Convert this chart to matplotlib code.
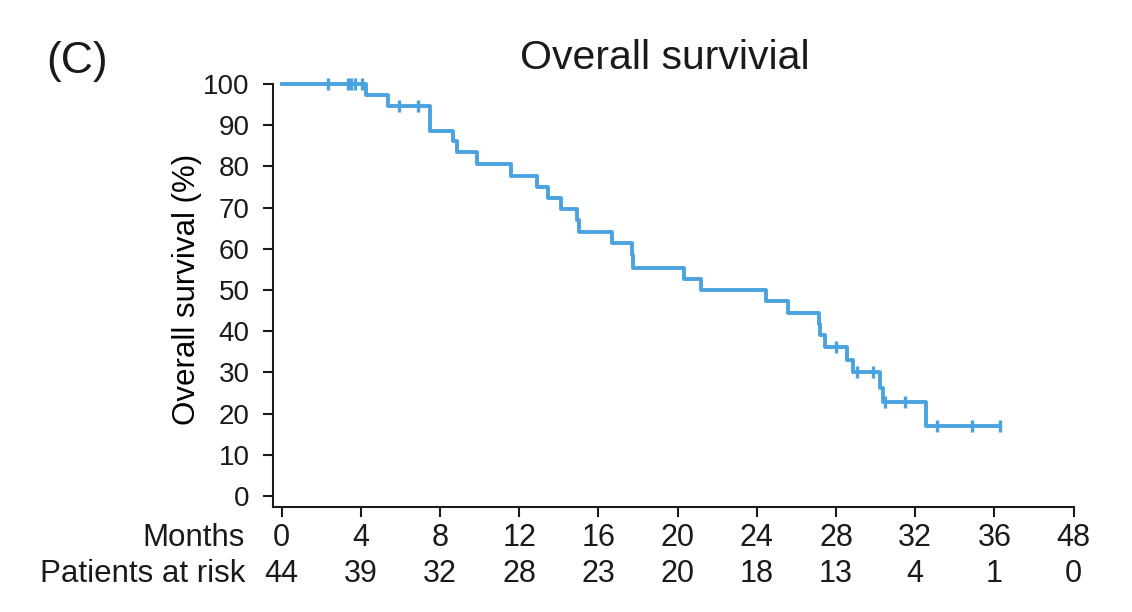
import numpy as np
import matplotlib
matplotlib.use("Agg")
import matplotlib.pyplot as plt

plt.rcParams['font.family'] = ['Liberation Sans', 'DejaVu Sans']
plt.rcParams['text.color'] = '#1a1a1a'

# Kaplan-Meier steps (months, survival %)
event_times = [0, 4.26, 5.36, 7.5, 8.67, 8.84, 9.88, 11.57, 12.88, 13.47, 14.1,
               14.9, 15.03, 16.7, 17.71, 17.76, 20.34, 21.2, 24.45, 25.6, 27.12,
               27.18, 27.47, 28.54, 28.84, 30.22, 30.39, 32.54, 36.3]
survival = [100, 97.3, 94.7, 88.7, 86.2, 83.6, 80.5, 77.7, 74.9, 72.3, 69.6,
            67.0, 64.2, 61.3, 58.4, 55.4, 52.7, 50.0, 47.3, 44.5, 41.7,
            39.1, 36.2, 33.0, 30.2, 26.1, 22.7, 17.0, 17.0]
censor_times = [2.36, 3.37, 3.49, 3.71, 4.04, 5.95, 6.9, 27.98, 29.04, 29.88,
                30.5, 31.5, 33.08, 34.88, 36.3]

month_labels = [0, 4, 8, 12, 16, 20, 24, 28, 32, 36, 48]
at_risk = [44, 39, 32, 28, 23, 20, 18, 13, 4, 1, 0]

color = '#4AA3DF'

fig = plt.figure(figsize=(11.32, 6.12), dpi=100)
ax = fig.add_axes([0.2412, 0.1716, 0.7072, 0.6911])

ax.step(event_times, survival, where='post', color=color, lw=2.8, clip_on=False)
idx = np.searchsorted(event_times, censor_times, side='right') - 1
censor_y = np.array(survival)[idx]
ax.plot(censor_times, censor_y, ls='none', marker='|', ms=9, mew=2.4,
        color=color, clip_on=False)

ax.set_xlim(-0.43, 40)
ax.set_ylim(-2.67, 100)
ax.set_yticks(range(0, 101, 10))
tick_pos = np.arange(len(month_labels)) * 4
ax.set_xticks(tick_pos)
ax.set_xticklabels([])

for s in ['top', 'right']:
    ax.spines[s].set_visible(False)
for s in ['left', 'bottom']:
    ax.spines[s].set_linewidth(1.5)
    ax.spines[s].set_color('#1a1a1a')
ax.tick_params(axis='both', direction='out', length=7, width=1.5, color='#1a1a1a')
ax.tick_params(axis='y', labelsize=20, pad=10, labelcolor='#1a1a1a')

ax.set_ylabel('Overall survival (%)', fontsize=22.5, labelpad=1, y=0.515)

xt = ax.get_xaxis_transform()
for p, m, r in zip(tick_pos, month_labels, at_risk):
    ax.text(p, -0.073, str(m), transform=xt, ha='center', va='center', fontsize=22)
    ax.text(p, -0.158, str(r), transform=xt, ha='center', va='center', fontsize=22)
ax.text(-1.85, -0.073, 'Months', transform=xt, ha='right', va='center', fontsize=22.5)
ax.text(-1.85, -0.158, 'Patients at risk', transform=xt, ha='right', va='center', fontsize=22.5)

fig.text(665 / 1132, 1 - 58 / 612, 'Overall survivial', ha='center', va='center', fontsize=29.5)
fig.text(46 / 1132, 1 - 62 / 612, '(C)', ha='left', va='center', fontsize=32)

fig.savefig('out.png', dpi=100)
